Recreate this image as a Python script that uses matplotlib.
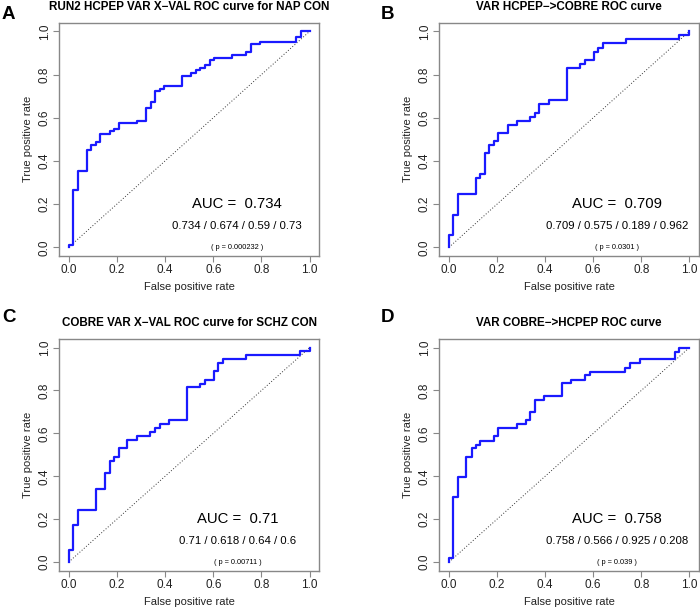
import matplotlib
matplotlib.use('Agg')
import matplotlib.pyplot as plt

plt.rcParams['font.family'] = ['Liberation Sans', 'DejaVu Sans']

# ROC curve vertices (fpr, tpr), drawn as steps-post
fpr_a = [0, 0, 0.019, 0.038, 0.075, 0.094, 0.113, 0.132, 0.170, 0.189, 0.208, 0.283, 0.321, 0.340,
         0.358, 0.377, 0.396, 0.472, 0.509, 0.528, 0.547, 0.566, 0.585, 0.604, 0.679, 0.736, 0.755,
         0.792, 0.943, 0.962, 1.0]
tpr_a = [0, 0.011, 0.267, 0.354, 0.451, 0.476, 0.488, 0.525, 0.538, 0.550, 0.575, 0.584, 0.646, 0.672,
         0.722, 0.734, 0.745, 0.794, 0.807, 0.819, 0.832, 0.844, 0.866, 0.878, 0.890, 0.903, 0.941,
         0.951, 0.975, 1.0, 1.0]

fpr_b = [0, 0, 0.018, 0.036, 0.112, 0.131, 0.149, 0.167, 0.187, 0.205, 0.245, 0.282, 0.336, 0.358,
         0.376, 0.415, 0.491, 0.546, 0.566, 0.603, 0.622, 0.640, 0.736, 0.958, 1.0]
tpr_b = [0, 0.057, 0.151, 0.247, 0.321, 0.340, 0.436, 0.474, 0.491, 0.529, 0.567, 0.586, 0.604, 0.623,
         0.662, 0.682, 0.832, 0.850, 0.869, 0.906, 0.924, 0.944, 0.963, 0.983, 1.0]

fpr_c = [0, 0, 0.018, 0.037, 0.113, 0.152, 0.170, 0.188, 0.207, 0.244, 0.283, 0.339, 0.359, 0.377,
         0.415, 0.490, 0.545, 0.566, 0.604, 0.621, 0.639, 0.734, 0.961, 1.0]
tpr_c = [0, 0.057, 0.171, 0.245, 0.341, 0.414, 0.473, 0.491, 0.530, 0.569, 0.586, 0.605, 0.625, 0.643,
         0.662, 0.814, 0.829, 0.851, 0.890, 0.926, 0.946, 0.964, 0.983, 1.0]

fpr_d = [0, 0, 0.018, 0.036, 0.073, 0.094, 0.112, 0.131, 0.187, 0.205, 0.282, 0.320, 0.336, 0.358,
         0.396, 0.470, 0.509, 0.566, 0.585, 0.734, 0.754, 0.793, 0.941, 0.958, 1.0]
tpr_d = [0, 0.020, 0.302, 0.397, 0.491, 0.530, 0.547, 0.566, 0.586, 0.625, 0.643, 0.662, 0.699, 0.757,
         0.775, 0.833, 0.851, 0.870, 0.888, 0.907, 0.926, 0.946, 0.981, 1.0, 1.0]

titles = ['RUN2 HCPEP VAR X\u2212VAL ROC curve for NAP CON',
          'VAR HCPEP\u2212>COBRE ROC curve',
          'COBRE VAR X\u2212VAL ROC curve for SCHZ CON',
          'VAR COBRE\u2212>HCPEP ROC curve']
letters = ['A', 'B', 'C', 'D']
auc_txt = ['0.734', '0.709', '0.71', '0.758']
stats_txt = ['0.734 / 0.674 / 0.59 / 0.73',
             '0.709 / 0.575 / 0.189 / 0.962',
             '0.71 / 0.618 / 0.64 / 0.6',
             '0.758 / 0.566 / 0.925 / 0.208']
p_txt = ['( p = 0.000232 )', '( p = 0.0301 )', '( p = 0.00711 )', '( p = 0.039 )']
curves = [(fpr_a, tpr_a), (fpr_b, tpr_b), (fpr_c, tpr_c), (fpr_d, tpr_d)]

fig = plt.figure(figsize=(7, 6.08), dpi=100)
W, H = 700.0, 608.0
# axes boxes in pixels: left, top, right, bottom
boxes = [(59, 22.7, 319.3, 256), (439.3, 22.7, 699, 256),
         (59, 339, 319.3, 570.7), (439.3, 339, 699, 570.7)]
letter_pos = [(2, 14.5), (381, 14.5), (2, 318), (381, 318)]

for i in range(4):
    l, t, r, b = boxes[i]
    ax = fig.add_axes([l / W, 1 - b / H, (r - l) / W, (b - t) / H])
    ax.plot([0, 1], [0, 1], ls=(0, (1, 2)), color='#333333', lw=0.7)
    x, y = curves[i]
    ax.plot(x, y, drawstyle='steps-post', color='#1a1aff', lw=1.6)
    ax.set_xlim(-0.04, 1.04)
    ax.set_ylim(-0.04, 1.04)
    ax.set_xticks([0, 0.2, 0.4, 0.6, 0.8, 1.0])
    ax.set_yticks([0, 0.2, 0.4, 0.6, 0.8, 1.0])
    ax.set_xticklabels(['0.0', '0.2', '0.4', '0.6', '0.8', '1.0'])
    ax.set_yticklabels(['0.0', '0.2', '0.4', '0.6', '0.8', '1.0'], rotation=90, va='center')
    ax.tick_params(direction='out', length=4, width=0.8, color='#888888', labelsize=8.5,
                   labelcolor='#222222', pad=2)
    for s in ax.spines.values():
        s.set_color('#888888')
        s.set_linewidth(1.0)
    ax.set_xlabel('False positive rate', fontsize=8, color='#222222', labelpad=4)
    ax.set_ylabel('True positive rate', fontsize=8, color='#222222', labelpad=4)
    ax.set_title(titles[i], fontsize=8.4, fontweight='bold', pad=9.5)
    ax.text(0.7, 0.2, 'AUC =  ' + auc_txt[i], ha='center', va='center', fontsize=10.7)
    ax.text(0.7, 0.1, stats_txt[i], ha='center', va='center', fontsize=8.2)
    ax.text(0.7, 0.0, p_txt[i], ha='center', va='center', fontsize=5.3)
    lx, ly = letter_pos[i]
    fig.text(lx / W, 1 - ly / H, letters[i], fontsize=13.5, fontweight='bold', ha='left', va='center')

fig.savefig('out.png', dpi=100)
